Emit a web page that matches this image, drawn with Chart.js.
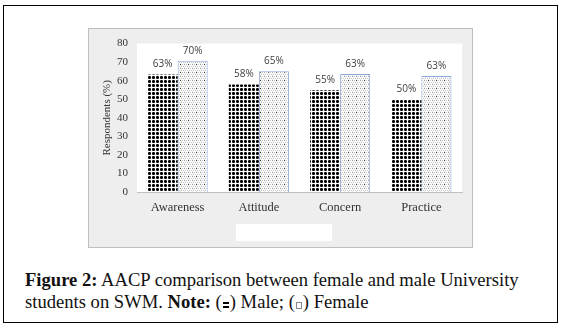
<!DOCTYPE html>
<html>
<head>
<meta charset="utf-8">
<script src="https://cdn.jsdelivr.net/npm/chart.js@4.4.1/dist/chart.umd.min.js"></script>
<style>
  html, body { margin: 0; padding: 0; background: #fff; }
  body { width: 563px; height: 330px; position: relative; overflow: hidden; }
  #frame { position: absolute; left: 3px; top: 5px; width: 555px; height: 318px; border: 1px solid #000; box-sizing: border-box; }
  #panel { position: absolute; left: 88px; top: 28px; width: 385px; height: 220px; background: #eeeeee; border: 1px solid #bfbfbf; box-sizing: border-box; }
  #chart { position: absolute; left: 88px; top: 28px; }
  #legendBox { position: absolute; left: 236px; top: 224px; width: 96px; height: 17px; background: #fff; }
  .cap { position: absolute; left: 25px; font-family: "Liberation Serif", serif; font-size: 18.6px; color: #111; white-space: nowrap; }
  #cap1 { top: 269px; }
  #cap2 { top: 291px; }
  .ico { display: inline-block; width: 6px; height: 8px; vertical-align: -1px; margin: 0 1px; }
  .icoM { background: radial-gradient(circle at 1.5px 2px, #000 1.2px, transparent 1.4px), radial-gradient(circle at 4.5px 2px, #000 1.2px, transparent 1.4px), radial-gradient(circle at 1.5px 6px, #000 1.2px, transparent 1.4px), radial-gradient(circle at 4.5px 6px, #000 1.2px, transparent 1.4px); }
  .icoF { border: 1px solid #888; width: 6px; height: 7px; box-sizing: border-box; background: #fff; }
</style>
</head>
<body>
<div id="frame"></div>
<div id="panel"></div>
<canvas id="chart" width="385" height="220"></canvas>
<div id="legendBox"></div>
<div class="cap" id="cap1"><b>Figure 2:</b> AACP comparison between female and male University</div>
<div class="cap" id="cap2">students on SWM. <b>Note:</b> (<span class="ico icoM"></span>) Male; (<span class="ico icoF"></span>) Female</div>
<script>
const categories = ['Awareness', 'Attitude', 'Concern', 'Practice'];
const maleValues = [63.4, 57.9, 54.9, 50.0];
const femaleValues = [70.8, 65.1, 63.6, 62.6];
const maleLabels = ['63%', '58%', '55%', '50%'];
const femaleLabels = ['70%', '65%', '63%', '63%'];
const yMin = 0, yMax = 80, yStep = 10;
const yTitle = 'Respondents (%)';

function makeMalePattern(ctx) {
  const c = document.createElement('canvas');
  c.width = 4; c.height = 4;
  const g = c.getContext('2d');
  g.fillStyle = '#fff'; g.fillRect(0, 0, 4, 4);
  g.fillStyle = '#000';
  g.fillRect(0, 0, 3, 3);
  g.fillStyle = '#555';
  g.fillRect(0, 0, 1, 1); g.fillRect(2, 0, 1, 1); g.fillRect(0, 2, 1, 1); g.fillRect(2, 2, 1, 1);
  g.fillStyle = '#000';
  g.fillRect(1, 1, 1, 1);
  return ctx.createPattern(c, 'repeat');
}
function makeFemalePattern(ctx) {
  const c = document.createElement('canvas');
  c.width = 8; c.height = 8;
  const g = c.getContext('2d');
  g.fillStyle = '#fff'; g.fillRect(0, 0, 8, 8);
  for (let y = 0; y < 8; y += 2) {
    for (let x = (y % 4 === 0 ? 0 : 1); x < 8; x += 2) {
      g.fillStyle = ((x + y) % 4 === 0) ? '#999999' : '#c4c4c4';
      g.fillRect(x, y, 1, 1);
    }
  }
  for (let y = 1; y < 8; y += 2) {
    for (let x = (y % 4 === 1 ? 1 : 0); x < 8; x += 4) {
      g.fillStyle = '#e2e2e2';
      g.fillRect(x, y, 1, 1);
    }
  }
  g.fillStyle = '#333';
  g.fillRect(4, 4, 1, 1);
  return ctx.createPattern(c, 'repeat');
}

const canvas = document.getElementById('chart');
const ctx = canvas.getContext('2d');

const plotBg = {
  id: 'plotBg',
  beforeDraw(chart) {
    const a = chart.chartArea, c = chart.ctx;
    c.save(); c.fillStyle = '#fff';
    c.fillRect(a.left, a.top, a.right - a.left, a.bottom - a.top);
    c.restore();
  }
};
const valueLabels = {
  id: 'valueLabels',
  afterDatasetsDraw(chart) {
    const c = chart.ctx;
    c.save();
    c.font = '10px "Open Sans", "Liberation Sans", sans-serif';
    c.fillStyle = '#404040';
    c.textAlign = 'center';
    c.textBaseline = 'middle';
    const labelSets = [maleLabels, femaleLabels];
    chart.data.datasets.forEach((ds, i) => {
      chart.getDatasetMeta(i).data.forEach((bar, j) => {
        c.fillText(labelSets[i][j], bar.x, bar.y - 10);
      });
    });
    c.restore();
  }
};

new Chart(ctx, {
  type: 'bar',
  data: {
    labels: categories,
    datasets: [
      { label: 'Male', data: maleValues, backgroundColor: makeMalePattern(ctx), borderWidth: 0 },
      { label: 'Female', data: femaleValues, backgroundColor: makeFemalePattern(ctx), borderColor: '#8eaadb', borderWidth: 1 }
    ]
  },
  options: {
    responsive: false,
    animation: false,
    devicePixelRatio: 1,
    categoryPercentage: 0.74,
    barPercentage: 1.0,
    layout: { padding: { left: 0, top: 12, right: 11, bottom: 0 } },
    plugins: { legend: { display: false }, tooltip: { enabled: false } },
    scales: {
      x: {
        grid: { display: false, drawTicks: false },
        border: { display: true, color: '#bfbfbf', width: 1 },
        ticks: { padding: 8, color: '#333', font: { family: '"Liberation Serif", serif', size: 12.5 } },
        afterFit(s) { s.height = 56; }
      },
      y: {
        min: yMin, max: yMax,
        grid: { display: false, drawTicks: false },
        border: { display: false },
        ticks: { stepSize: yStep, padding: 9, color: '#333', font: { family: '"Liberation Serif", serif', size: 11 } },
        title: { display: true, text: yTitle, color: '#333', padding: { top: 13, bottom: 0 }, font: { family: '"Liberation Serif", serif', size: 11 } },
        afterFit(s) { s.width = 49; }
      }
    }
  },
  plugins: [plotBg, valueLabels]
});
</script>
</body>
</html>
